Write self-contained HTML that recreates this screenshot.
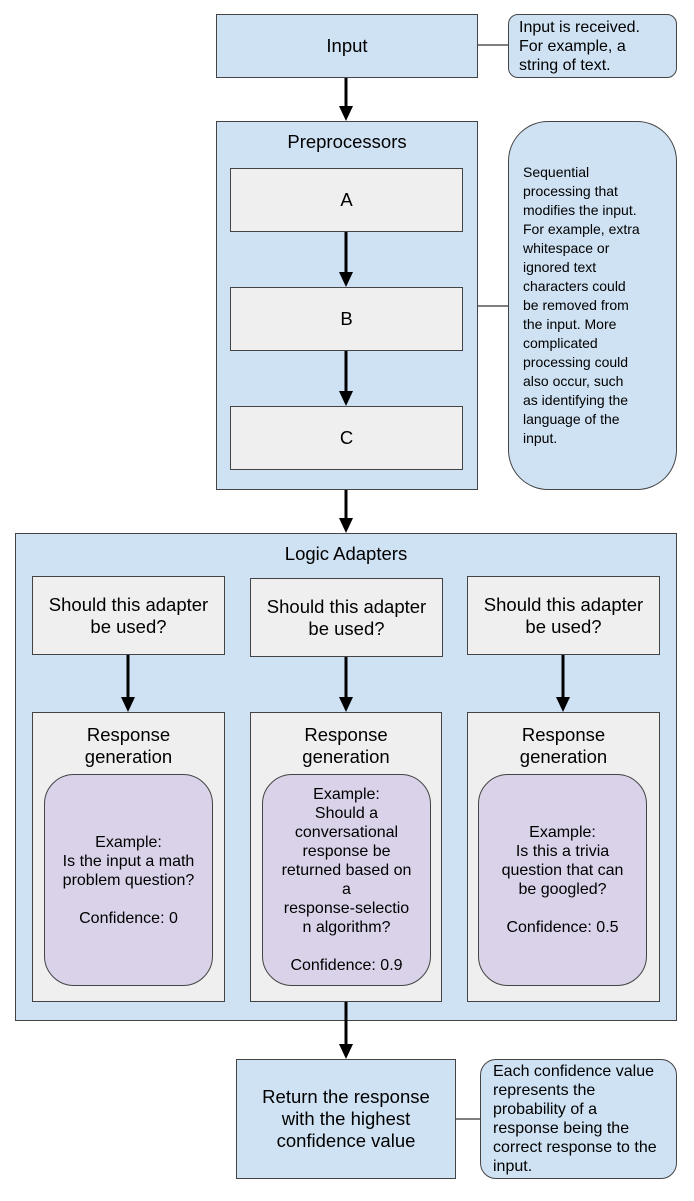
<!DOCTYPE html>
<html><head><meta charset="utf-8"><style>
body{margin:0;width:694px;height:1201px;background:#fff;position:relative;overflow:hidden;font-family:"Liberation Sans",Arial,sans-serif;color:#000}
.b{position:absolute;box-sizing:border-box;border:1.5px solid #444}
.blue{background:#cfe2f3}
.grey{background:#efefef}
.pur{background:#d9d2e9;border-radius:30px;display:flex;align-items:center;justify-content:center;text-align:center;font-size:16px;line-height:19px;white-space:nowrap}
.c{display:flex;align-items:center;justify-content:center;text-align:center;font-size:18.5px;line-height:22px;white-space:nowrap}
.note{font-size:16px;line-height:19px;padding-left:10px;display:flex;align-items:center;white-space:nowrap}
.t{position:absolute;left:0;right:0;text-align:center;font-size:18.5px;line-height:22px}
svg{position:absolute;left:0;top:0}
</style></head><body>
<div class="b blue c" style="left:216px;top:14px;width:262px;height:64px">Input</div>
<div class="b blue note" style="left:508px;top:14px;width:169px;height:64px;border-radius:10px">Input is received.<br>For example, a<br>string of text.</div>

<div class="b blue" style="left:216px;top:121px;width:262px;height:369px"><div class="t" style="top:9px">Preprocessors</div></div>
<div class="b grey c" style="left:230px;top:168px;width:233px;height:64px">A</div>
<div class="b grey c" style="left:230px;top:287px;width:233px;height:64px">B</div>
<div class="b grey c" style="left:230px;top:406px;width:233px;height:64px">C</div>
<div class="b blue note" style="left:508px;top:121px;width:169px;height:369px;border-radius:40px;padding-left:14px;font-size:14px">Sequential<br>processing that<br>modifies the input.<br>For example, extra<br>whitespace or<br>ignored text<br>characters could<br>be removed from<br>the input. More<br>complicated<br>processing could<br>also occur, such<br>as identifying the<br>language of the<br>input.</div>

<div class="b blue" style="left:15px;top:533px;width:662px;height:488px"><div class="t" style="top:9px">Logic Adapters</div></div>
<div class="b grey c" style="left:32px;top:576px;width:193px;height:79px">Should this adapter<br>be used?</div>
<div class="b grey c" style="left:250px;top:578px;width:193px;height:79px">Should this adapter<br>be used?</div>
<div class="b grey c" style="left:467px;top:576px;width:193px;height:79px">Should this adapter<br>be used?</div>

<div class="b grey" style="left:32px;top:712px;width:193px;height:290px"><div class="t" style="top:11px">Response<br>generation</div></div>
<div class="b grey" style="left:250px;top:712px;width:192px;height:290px"><div class="t" style="top:11px">Response<br>generation</div></div>
<div class="b grey" style="left:467px;top:712px;width:193px;height:290px"><div class="t" style="top:11px">Response<br>generation</div></div>

<div class="b pur" style="left:44px;top:774px;width:169px;height:212px">Example:<br>Is the input a math<br>problem question?<br><br>Confidence: 0</div>
<div class="b pur" style="left:262px;top:774px;width:169px;height:212px">Example:<br>Should a<br>conversational<br>response be<br>returned based on<br>a<br>response-selectio<br>n algorithm?<br><br>Confidence: 0.9</div>
<div class="b pur" style="left:478px;top:774px;width:169px;height:212px">Example:<br>Is this a trivia<br>question that can<br>be googled?<br><br>Confidence: 0.5</div>

<div class="b blue c" style="left:236px;top:1059px;width:220px;height:120px">Return the response<br>with the highest<br>confidence value</div>
<div class="b blue note" style="left:480px;top:1059px;width:197px;height:120px;border-radius:16px;padding-left:12px">Each confidence value<br>represents the<br>probability of a<br>response being the<br>correct response to the<br>input.</div>

<svg width="694" height="1201" viewBox="0 0 694 1201">
<g stroke="#333" stroke-width="1.2"><line x1="478" y1="45" x2="508" y2="45"/><line x1="478" y1="306" x2="508" y2="306"/><line x1="456" y1="1119" x2="480" y2="1119"/></g>
<g stroke="#000" stroke-width="3">
<line x1="346" y1="78" x2="346" y2="108"/><line x1="346" y1="232" x2="346" y2="274"/><line x1="346" y1="351" x2="346" y2="393"/><line x1="346" y1="490" x2="346" y2="520"/>
<line x1="128" y1="655" x2="128" y2="699"/><line x1="346" y1="657" x2="346" y2="699"/><line x1="563" y1="655" x2="563" y2="699"/><line x1="346" y1="1002" x2="346" y2="1046"/>
</g>
<g fill="#000">
<path d="M339 106h14l-7 15z"/><path d="M339 272h14l-7 15z"/><path d="M339 391h14l-7 15z"/><path d="M339 518h14l-7 15z"/>
<path d="M121 697h14l-7 15z"/><path d="M339 697h14l-7 15z"/><path d="M556 697h14l-7 15z"/><path d="M339 1044h14l-7 15z"/>
</g>
</svg>
</body></html>
